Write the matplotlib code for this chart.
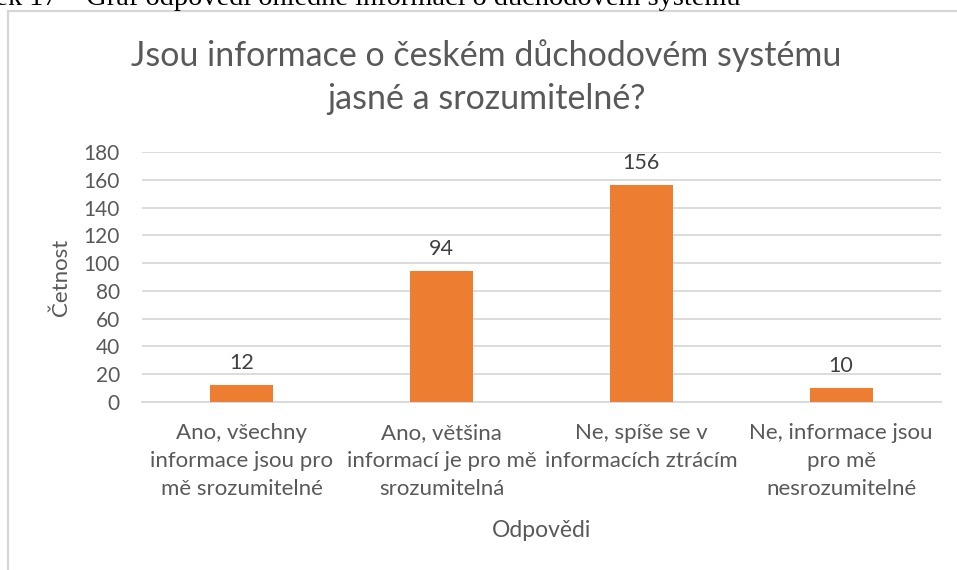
import matplotlib.pyplot as plt
from matplotlib.patches import Rectangle

# data
odpovedi = ['Ano, všechny\ninformace jsou pro\nmě srozumitelné',
            'Ano, většina\ninformací je pro mě\nsrozumitelná',
            'Ne, spíše se v\ninformacích ztrácím',
            'Ne, informace jsou\npro mě\nnesrozumitelné']
cetnost = [12, 94, 156, 10]
yticks = [0, 20, 40, 60, 80, 100, 120, 140, 160, 180]

plt.rcParams['font.family'] = ['Lato', 'DejaVu Sans']
grey = '#595959'

fig = plt.figure(figsize=(9.57, 5.7), dpi=100)
ax = fig.add_axes([142/957, 1-402/570, 799/957, 250/570])

x = list(range(len(cetnost)))
ax.bar(x, cetnost, width=0.315, color='#ed7d31', zorder=3)
for xi, v in zip(x, cetnost):
    ax.annotate(str(v), (xi, v), xytext=(0, 9), textcoords='offset points',
                ha='center', va='bottom', fontsize=15.5, color='#404040')

ax.set_xlim(-0.5, len(cetnost)-0.5)
ax.set_ylim(0, 180)
ax.set_yticks(yticks)
ax.yaxis.grid(True, color='#d9d9d9', linewidth=1.3, zorder=0)
for s in ['top', 'right', 'left']:
    ax.spines[s].set_visible(False)
ax.spines['bottom'].set_color('#d9d9d9')
ax.spines['bottom'].set_linewidth(1.3)
ax.tick_params(axis='y', length=0, pad=16, labelsize=15, labelcolor=grey)
ax.set_xticks(x)
ax.set_xticklabels(odpovedi, linespacing=1.5)
ax.tick_params(axis='x', length=0, pad=15, labelsize=16, labelcolor=grey)
ax.set_ylabel('Četnost', fontsize=16, color=grey, labelpad=9)
ax.set_xlabel('Odpovědi', fontsize=16.5, color=grey, labelpad=15)

fig.text(0.508, 1-77/570, 'Jsou informace o českém důchodovém systému\njasné a srozumitelné?',
         ha='center', va='center', fontsize=24.5, color=grey, linespacing=1.4)

# chart frame and the caption above it, cut by the top edge as in the source
fig.patches.append(Rectangle((8/957, -0.1), 1.2, 1.1-11/570, transform=fig.transFigure,
                             fill=False, edgecolor='#d6d6d6', linewidth=1.6))
fig.text(740/957, 1-5/570, 'Obrázek 17 – Graf odpovědí ohledně informací o důchodovém systému',
         ha='right', va='baseline', fontsize=20.4, family='Liberation Serif', color='black')

fig.savefig('out.png', dpi=100)
